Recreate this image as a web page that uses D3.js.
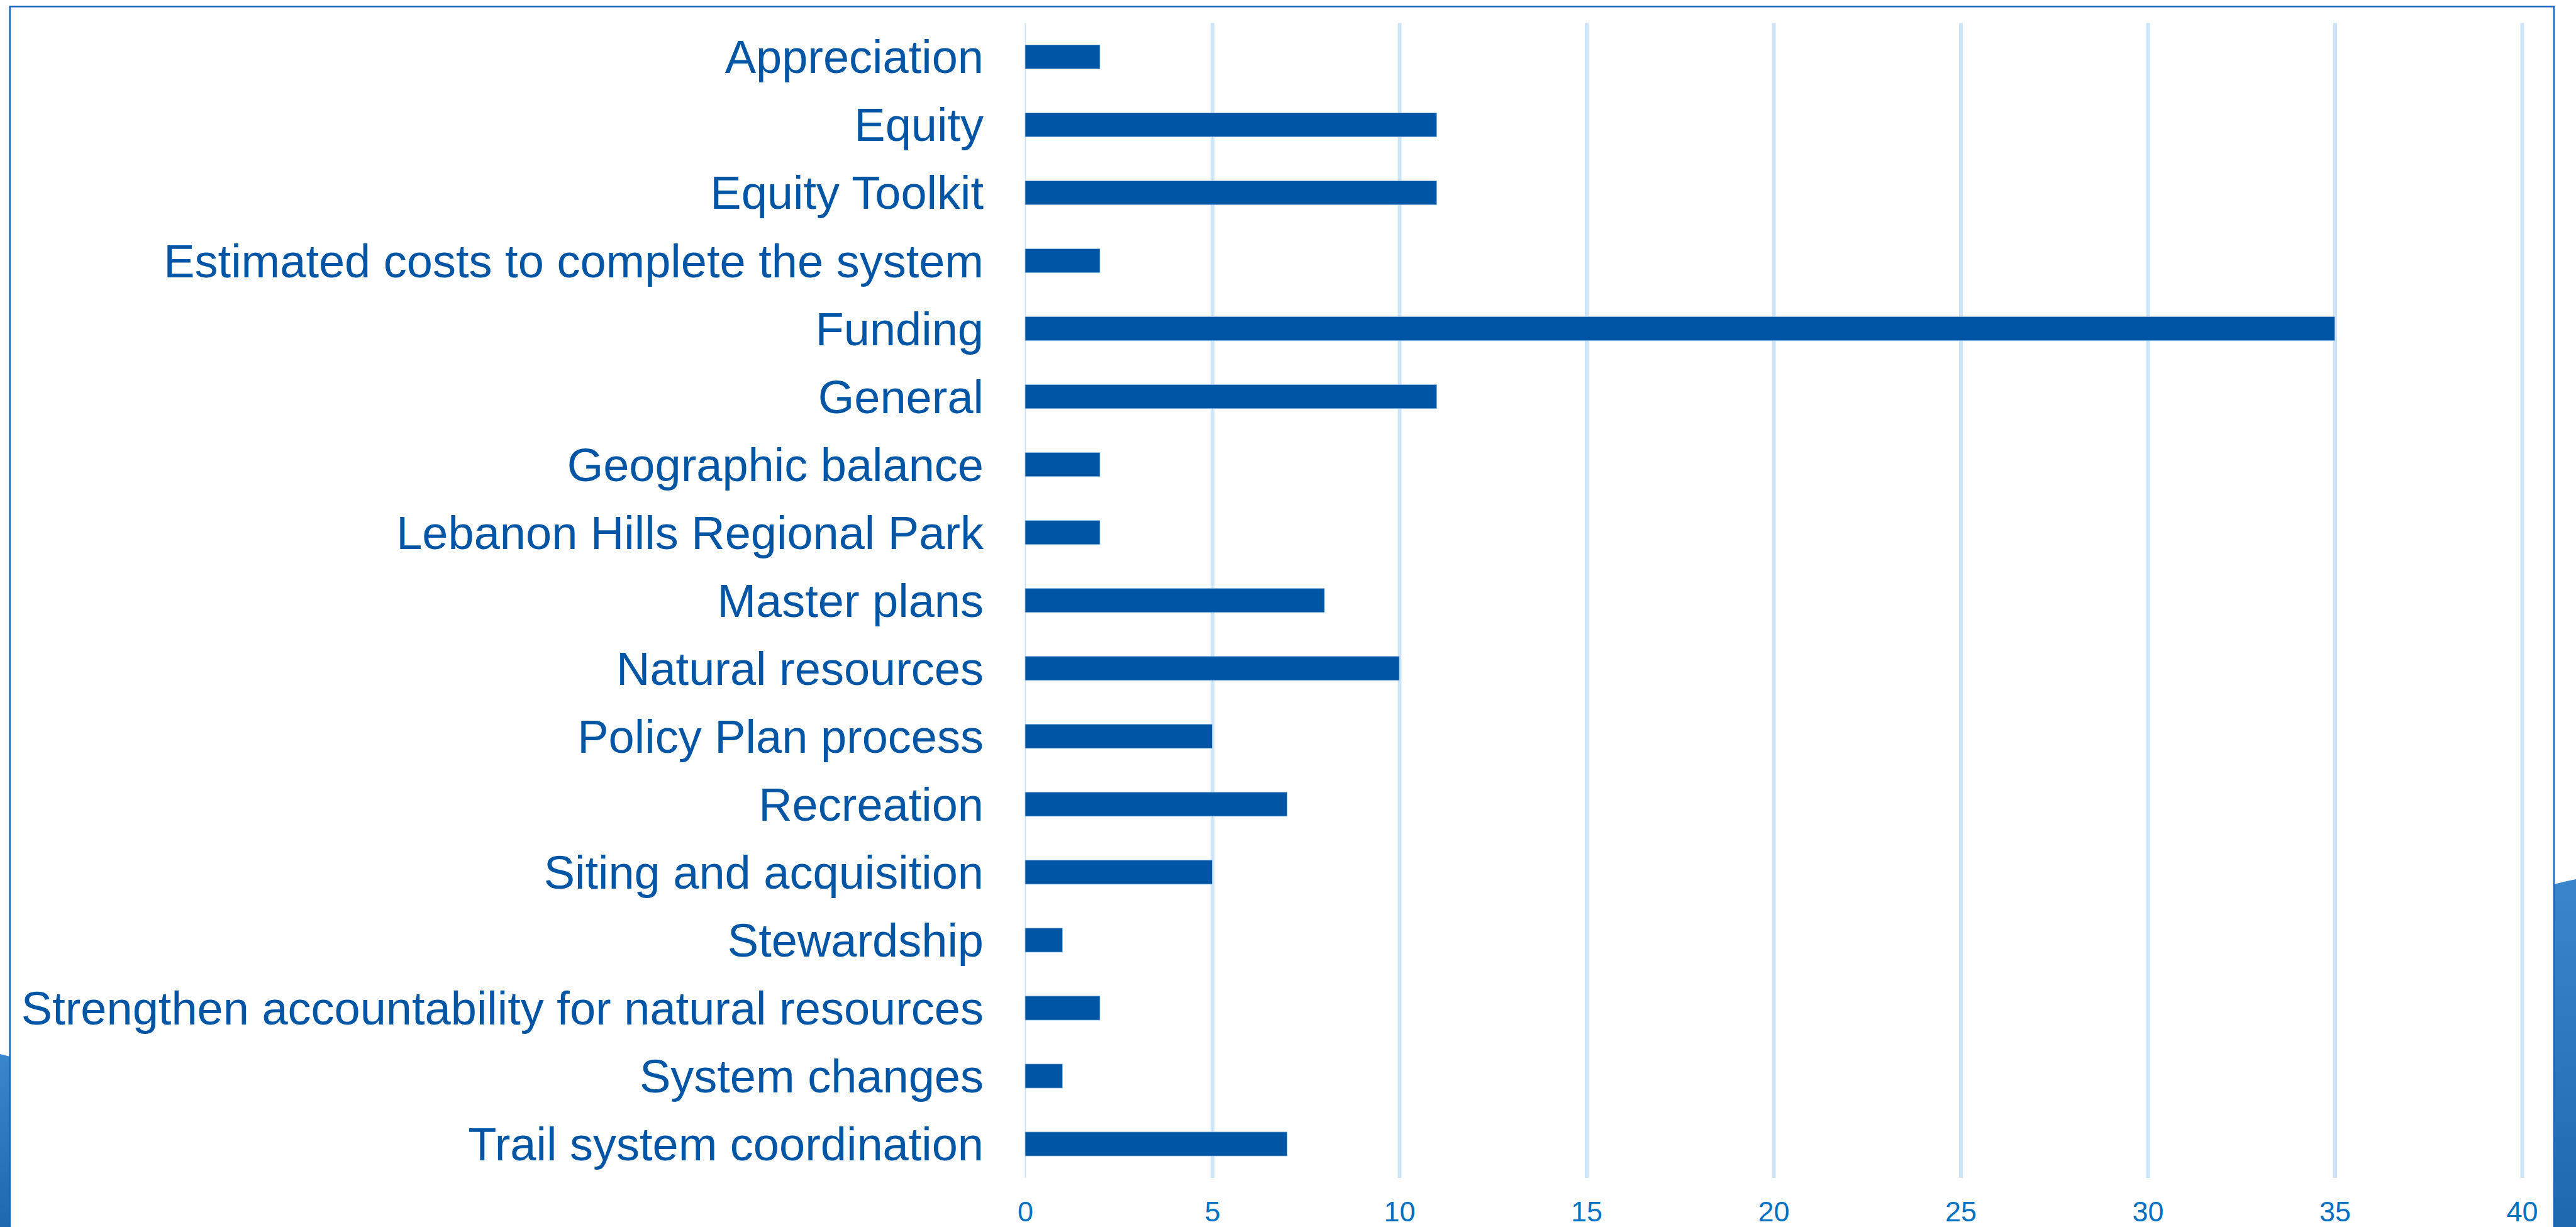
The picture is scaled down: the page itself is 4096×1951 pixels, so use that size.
<!DOCTYPE html>
<html lang="en">
  <head>
    <meta charset="UTF-8" />
    <title>Comments by topic</title>
    <style>
      html, body {
        margin: 0;
        padding: 0;
        background: #fff;
      }
      svg {
        display: block;
        font-family: "Liberation Sans", Arial, sans-serif;
      }
      .grid line {
        stroke: #cde5fb;
      }
      .cat-label {
        font-size: 74px;
        fill: #0055a4;
      }
      .tick-label text {
        font-size: 45px;
        fill: #0070c0;
      }
    </style>
  </head>
  <body>
    <svg width="4096" height="1951"></svg>

    <script src="https://d3js.org/d3.v7.min.js"></script>
    <script>
      const categories = [
        "Appreciation",
        "Equity",
        "Equity Toolkit",
        "Estimated costs to complete the system",
        "Funding",
        "General",
        "Geographic balance",
        "Lebanon Hills Regional Park",
        "Master plans",
        "Natural resources",
        "Policy Plan process",
        "Recreation",
        "Siting and acquisition",
        "Stewardship",
        "Strengthen accountability for natural resources",
        "System changes",
        "Trail system coordination",
      ];
      const counts = [2, 11, 11, 2, 35, 11, 2, 2, 8, 10, 5, 7, 5, 1, 2, 1, 7];
      const xTicks = [0, 5, 10, 15, 20, 25, 30, 35, 40];

      const width = 4096,
        height = 1951;
      const margin = { top: 36.5, right: 86, bottom: 78, left: 1630 };

      const svg = d3.select("svg");

      // slide background swooshes outside the frame
      const defs = svg.append("defs");
      const grad = defs
        .append("linearGradient")
        .attr("id", "swoosh")
        .attr("x1", 0)
        .attr("y1", 0)
        .attr("x2", 0)
        .attr("y2", 1);
      grad.append("stop").attr("offset", 0).attr("stop-color", "#3a86cc");
      grad.append("stop").attr("offset", 1).attr("stop-color", "#1e68b0");

      svg
        .append("path")
        .attr("d", `M4061,1406 Q4080,1401 ${width},1398 L${width},${height} L4061,${height} Z`)
        .attr("fill", "url(#swoosh)");
      svg
        .append("path")
        .attr("d", `M0,1676 L16,1680 L16,${height} L0,${height} Z`)
        .attr("fill", "url(#swoosh)");

      // chart frame
      svg
        .append("rect")
        .attr("x", 15.7)
        .attr("y", 10.4)
        .attr("width", 4061 - 15.7)
        .attr("height", height + 20)
        .attr("fill", "#fff")
        .attr("stroke", "#1565c0")
        .attr("stroke-width", 2.5);

      const x = d3
        .scaleLinear()
        .domain([0, 40])
        .range([margin.left, width - margin.right]);

      const y = d3
        .scaleBand()
        .domain(categories)
        .range([margin.top, height - margin.bottom])
        .paddingInner(0.646)
        .paddingOuter(0.323);

      // vertical gridlines
      svg
        .append("g")
        .attr("class", "grid")
        .attr("transform", `translate(0,${height - margin.bottom})`)
        .call(
          d3
            .axisBottom(x)
            .tickValues(xTicks)
            .tickSize(-(height - margin.top - margin.bottom))
            .tickFormat("")
        )
        .call((g) => g.select(".domain").remove())
        .call((g) =>
          g.selectAll(".tick line").attr("stroke-width", (d) => (d === 0 ? 2 : 6))
        );

      // x tick labels
      svg
        .append("g")
        .attr("class", "tick-label")
        .attr("transform", `translate(0,${height - margin.bottom})`)
        .call(d3.axisBottom(x).tickValues(xTicks).tickSize(0).tickPadding(37))
        .call((g) => g.select(".domain").remove());

      // bars
      svg
        .append("g")
        .selectAll("rect")
        .data(categories)
        .join("rect")
        .attr("x", x(0))
        .attr("y", (d) => y(d))
        .attr("width", (d, i) => x(counts[i]) - x(0))
        .attr("height", y.bandwidth())
        .attr("fill", "#0055a4")
        .attr("stroke", "#9cc3e8")
        .attr("stroke-width", 0.8);

      // category labels
      svg
        .append("g")
        .selectAll("text")
        .data(categories)
        .join("text")
        .attr("class", "cat-label")
        .attr("x", x(0) - 66)
        .attr("y", (d) => y(d) + y.bandwidth() / 2)
        .attr("dy", "0.35em")
        .attr("text-anchor", "end")
        .text((d) => d);
    </script>
  </body>
</html>
